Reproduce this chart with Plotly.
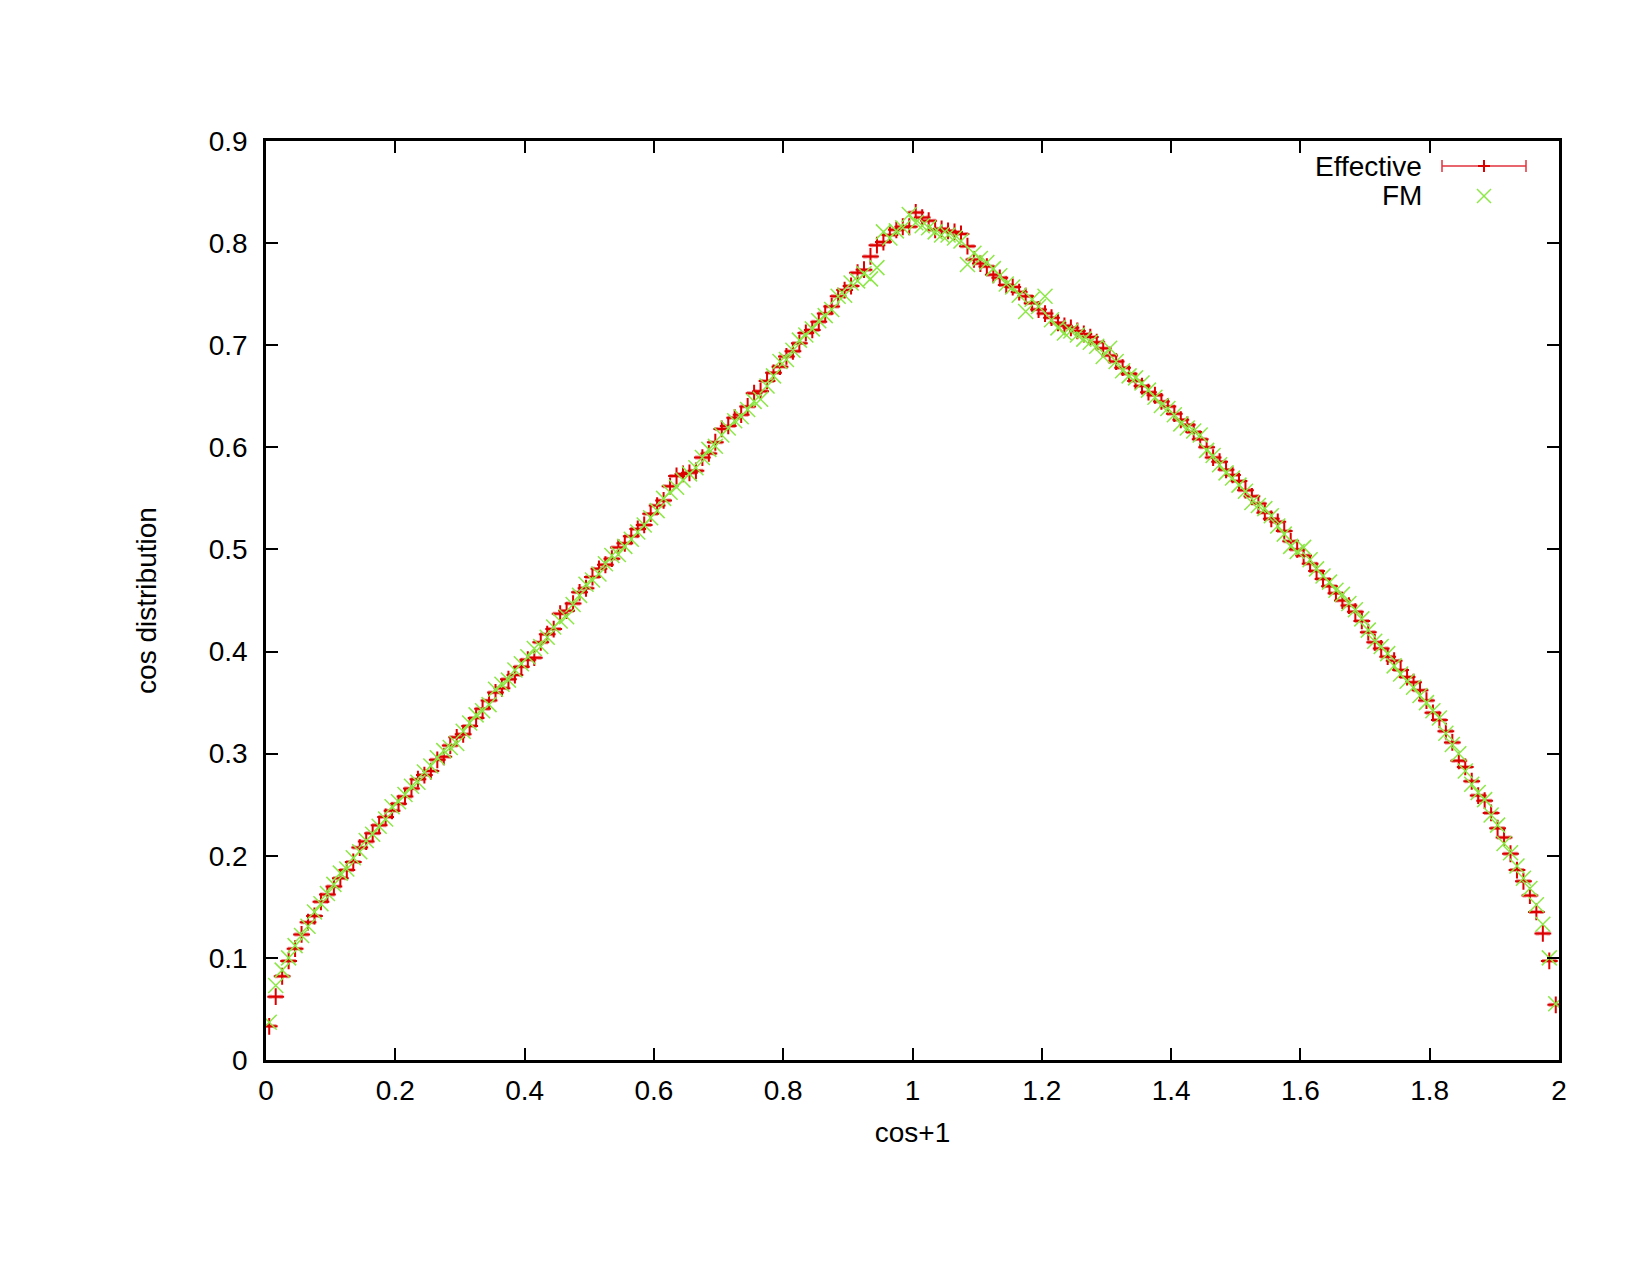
import plotly.graph_objects as go

# bin centres 0.005 ... 1.995 (200 bins of width 0.01)
x_centres = [round(0.005 + 0.01 * i, 3) for i in range(200)]
x_halfwidth = [0.0085] * 200

effective = [
    0.033, 0.062, 0.082, 0.097, 0.109, 0.123, 0.135, 0.141, 0.155, 0.162,
    0.170, 0.178, 0.186, 0.194, 0.208, 0.214, 0.222, 0.230, 0.238, 0.244,
    0.251, 0.258, 0.266, 0.275, 0.279, 0.283, 0.294, 0.297, 0.308, 0.316,
    0.319, 0.327, 0.335, 0.344, 0.352, 0.360, 0.364, 0.373, 0.377, 0.385,
    0.392, 0.394, 0.409, 0.417, 0.422, 0.437, 0.440, 0.447, 0.458, 0.462,
    0.473, 0.481, 0.485, 0.491, 0.502, 0.506, 0.513, 0.520, 0.524, 0.535,
    0.543, 0.548, 0.562, 0.572, 0.574, 0.575, 0.577, 0.590, 0.594, 0.605,
    0.618, 0.621, 0.629, 0.632, 0.640, 0.653, 0.655, 0.665, 0.673, 0.679,
    0.689, 0.694, 0.702, 0.712, 0.715, 0.723, 0.731, 0.738, 0.748, 0.754,
    0.758, 0.771, 0.774, 0.787, 0.798, 0.801, 0.808, 0.813, 0.816, 0.816,
    0.830, 0.825, 0.822, 0.813, 0.814, 0.812, 0.811, 0.809, 0.797, 0.784,
    0.780, 0.777, 0.769, 0.766, 0.759, 0.757, 0.752, 0.748, 0.741, 0.735,
    0.731, 0.727, 0.722, 0.719, 0.717, 0.714, 0.711, 0.708, 0.703, 0.697,
    0.690, 0.684, 0.678, 0.672, 0.665, 0.660, 0.654, 0.651, 0.645, 0.640,
    0.633, 0.627, 0.622, 0.615, 0.608, 0.600, 0.590, 0.586, 0.578, 0.573,
    0.567, 0.558, 0.552, 0.545, 0.536, 0.530, 0.527, 0.518, 0.508, 0.500,
    0.494, 0.486, 0.479, 0.471, 0.464, 0.457, 0.450, 0.445, 0.439, 0.430,
    0.419, 0.409, 0.403, 0.395, 0.391, 0.382, 0.375, 0.370, 0.362, 0.352,
    0.340, 0.333, 0.322, 0.311, 0.293, 0.287, 0.273, 0.259, 0.254, 0.242,
    0.227, 0.218, 0.202, 0.186, 0.175, 0.161, 0.145, 0.124, 0.097, 0.054,
]

fm = [
    0.037, 0.073, 0.088, 0.100, 0.112, 0.122, 0.131, 0.145, 0.153, 0.163,
    0.172, 0.183, 0.187, 0.198, 0.204, 0.215, 0.221, 0.229, 0.236, 0.248,
    0.253, 0.260, 0.268, 0.272, 0.282, 0.288, 0.296, 0.303, 0.306, 0.310,
    0.322, 0.330, 0.338, 0.342, 0.348, 0.363, 0.368, 0.372, 0.382, 0.388,
    0.395, 0.403, 0.405, 0.414, 0.424, 0.430, 0.434, 0.446, 0.455, 0.466,
    0.470, 0.476, 0.486, 0.494, 0.495, 0.503, 0.510, 0.517, 0.524, 0.531,
    0.538, 0.550, 0.556, 0.561, 0.568, 0.574, 0.580, 0.590, 0.598, 0.601,
    0.612, 0.619, 0.626, 0.630, 0.637, 0.645, 0.647, 0.660, 0.670, 0.684,
    0.686, 0.695, 0.705, 0.710, 0.716, 0.724, 0.729, 0.735, 0.748, 0.749,
    0.761, 0.763, 0.770, 0.765, 0.776, 0.811, 0.805, 0.812, 0.815, 0.828,
    0.820, 0.817, 0.815, 0.811, 0.808, 0.808, 0.805, 0.802, 0.779, 0.790,
    0.785, 0.781, 0.775, 0.768, 0.760, 0.757, 0.749, 0.733, 0.745, 0.738,
    0.748, 0.725, 0.717, 0.712, 0.714, 0.710, 0.706, 0.703, 0.699, 0.689,
    0.697, 0.684, 0.675, 0.670, 0.668, 0.663, 0.656, 0.649, 0.641, 0.638,
    0.632, 0.623, 0.619, 0.616, 0.612, 0.597, 0.592, 0.583, 0.575, 0.570,
    0.563, 0.557, 0.546, 0.543, 0.540, 0.533, 0.523, 0.515, 0.503, 0.498,
    0.502, 0.490, 0.481, 0.474, 0.468, 0.460, 0.456, 0.447, 0.441, 0.432,
    0.421, 0.410, 0.405, 0.398, 0.386, 0.378, 0.371, 0.365, 0.357, 0.350,
    0.342, 0.335, 0.320, 0.309, 0.300, 0.283, 0.270, 0.262, 0.255, 0.240,
    0.230, 0.212, 0.203, 0.190, 0.178, 0.168, 0.152, 0.133, 0.100, 0.055,
]

x_ticks = [0, 0.2, 0.4, 0.6, 0.8, 1.0, 1.2, 1.4, 1.6, 1.8, 2.0]
x_tick_labels = ["0", "0.2", "0.4", "0.6", "0.8", "1", "1.2", "1.4", "1.6", "1.8", "2"]
y_ticks = [0, 0.1, 0.2, 0.3, 0.4, 0.5, 0.6, 0.7, 0.8, 0.9]
y_tick_labels = ["0", "0.1", "0.2", "0.3", "0.4", "0.5", "0.6", "0.7", "0.8", "0.9"]

RED = "#dd0000"
RED_BAR = "rgba(225,40,50,0.55)"
GREEN = "rgb(140,232,70)"
FONT = "Liberation Sans, Arial, Helvetica, sans-serif"
FS = 28

# page body has an 8px margin; plot area in window pixels
BODY = 8
W, H = 1635, 1259
PL, PR, PT, PB = 266, 1559, 141, 1060
L, T = PL - BODY, PT - BODY
R = BODY + W - PR
B = BODY + H - PB
PW, PH = PR - PL, PB - PT

fig = go.Figure()
fig.add_trace(go.Scatter(
    x=x_centres, y=effective, mode="markers", name="Effective",
    marker=dict(symbol="cross-thin", size=12, line=dict(width=2, color=RED), color=RED),
    error_x=dict(type="data", array=x_halfwidth, visible=True,
                 color=RED_BAR, thickness=3.5, width=2),
    showlegend=False,
))
fig.add_trace(go.Scatter(
    x=x_centres, y=fm, mode="markers", name="FM",
    marker=dict(symbol="x-thin", size=15, line=dict(width=1.5, color=GREEN), color=GREEN),
    showlegend=False,
))


def px(X):
    return (X - PL) / PW


def py(Y):
    return (PB - Y) / PH


shapes = []
# legend sample: Effective (error bar line with caps and a plus)
ly1, ly2 = 166, 196
sx0, sx1, sxc = 1442, 1526, 1484
line_style = dict(color="rgba(225,50,60,0.75)", width=2)
shapes.append(dict(type="line", xref="paper", yref="paper",
                   x0=px(sx0), x1=px(sx1), y0=py(ly1), y1=py(ly1), line=line_style))
for sx in (sx0, sx1):
    shapes.append(dict(type="line", xref="paper", yref="paper",
                       x0=px(sx), x1=px(sx), y0=py(ly1 - 6), y1=py(ly1 + 6), line=line_style))
shapes.append(dict(type="line", xref="paper", yref="paper",
                   x0=px(sxc - 6), x1=px(sxc + 6), y0=py(ly1), y1=py(ly1),
                   line=dict(color=RED, width=2)))
shapes.append(dict(type="line", xref="paper", yref="paper",
                   x0=px(sxc), x1=px(sxc), y0=py(ly1 - 6), y1=py(ly1 + 6),
                   line=dict(color=RED, width=2)))
# legend sample: FM (x mark)
for (a, b) in ((-7, 7), (7, -7)):
    shapes.append(dict(type="line", xref="paper", yref="paper",
                       x0=px(sxc - 7), x1=px(sxc + 7), y0=py(ly2 + a), y1=py(ly2 + b),
                       line=dict(color=GREEN, width=1.5)))

annotations = [
    dict(text="Effective", xref="paper", yref="paper", x=px(1424), y=py(ly1),
         xanchor="right", yanchor="middle", showarrow=False,
         font=dict(family=FONT, size=FS, color="black")),
    dict(text="FM", xref="paper", yref="paper", x=px(1424), y=py(ly2),
         xanchor="right", yanchor="middle", showarrow=False,
         font=dict(family=FONT, size=FS, color="black")),
]

axis_common = dict(
    showline=True, linecolor="black", linewidth=2.5, mirror="ticks",
    ticks="inside", ticklen=12, tickwidth=2, tickcolor="black",
    showgrid=False, zeroline=False,
    tickfont=dict(family=FONT, size=FS, color="black"),
)

fig.update_layout(
    width=W, height=H, autosize=False,
    margin=dict(l=L, r=R, t=T, b=B, pad=0),
    paper_bgcolor="white", plot_bgcolor="white",
    font=dict(family=FONT, size=FS, color="black"),
    shapes=shapes, annotations=annotations,
    xaxis=dict(range=[0, 2], tickvals=x_ticks, ticktext=x_tick_labels,
               ticklabelstandoff=4,
               title=dict(text="cos+1", font=dict(family=FONT, size=FS), standoff=18),
               **axis_common),
    yaxis=dict(range=[0, 0.9], tickvals=y_ticks, ticktext=y_tick_labels,
               ticklabelstandoff=10,
               title=dict(text="cos distribution", font=dict(family=FONT, size=FS), standoff=44),
               **axis_common),
)

fig.write_html("out.html")
